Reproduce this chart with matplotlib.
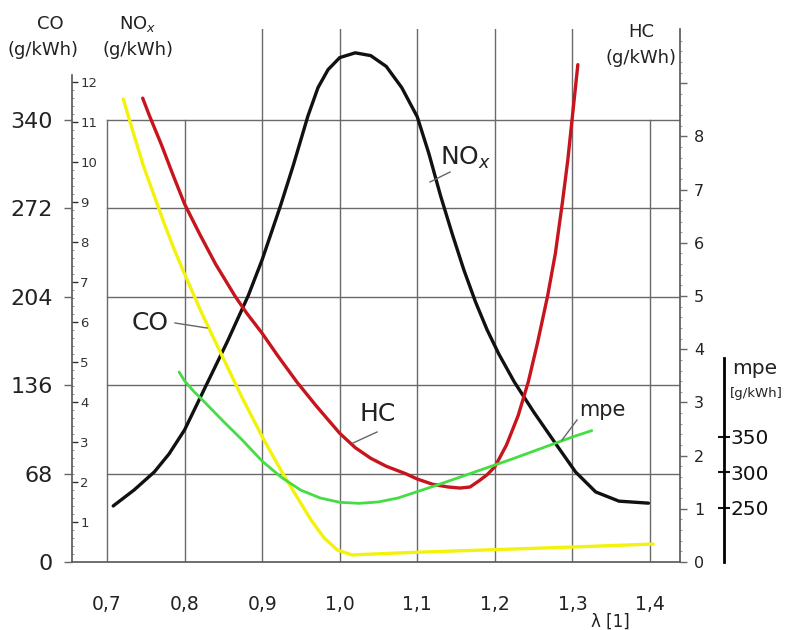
import matplotlib
matplotlib.use("Agg")
import matplotlib.pyplot as plt
from matplotlib.lines import Line2D
from matplotlib.ticker import FixedLocator

plt.rcParams['font.family'] = ['DejaVu Sans']

# ---------------- data ----------------
lambda_ticks = [0.7, 0.8, 0.9, 1.0, 1.1, 1.2, 1.3, 1.4]
lambda_labels = ['0,7', '0,8', '0,9', '1,0', '1,1', '1,2', '1,3', '1,4']
co_ticks = [0, 68, 136, 204, 272, 340]
nox_ticks = [1, 2, 3, 4, 5, 6, 7, 8, 9, 10, 11, 12]
hc_ticks = [0, 1, 2, 3, 4, 5, 6, 7, 8, 9]
hc_tick_labels = ['0', '1', '2', '3', '4', '5', '6', '7', '8', '']
mpe_ticks = [250, 300, 350]

nox_lambda = [0.708, 0.735, 0.761, 0.780, 0.800, 0.830, 0.855, 0.882, 0.900, 0.924,
              0.940, 0.959, 0.972, 0.985, 1.000, 1.020, 1.040, 1.060, 1.080, 1.100,
              1.115, 1.130, 1.145, 1.160, 1.175, 1.190, 1.205, 1.225, 1.250, 1.275,
              1.304, 1.330, 1.360, 1.398]
nox_values = [1.40, 1.80, 2.25, 2.70, 3.30, 4.50, 5.50, 6.65, 7.55, 8.92,
              9.90, 11.14, 11.85, 12.30, 12.60, 12.72, 12.65, 12.38, 11.85, 11.12,
              10.20, 9.15, 8.20, 7.30, 6.50, 5.80, 5.20, 4.50, 3.75, 3.05,
              2.25, 1.75, 1.52, 1.47]

hc_lambda = [0.746, 0.755, 0.770, 0.785, 0.800, 0.820, 0.840, 0.865, 0.880, 0.900,
             0.920, 0.945, 0.970, 1.000, 1.020, 1.040, 1.060, 1.085, 1.100, 1.120,
             1.140, 1.155, 1.168, 1.180, 1.190, 1.200, 1.215, 1.230, 1.243, 1.255,
             1.268, 1.278, 1.287, 1.294, 1.300, 1.307]
hc_values = [8.72, 8.38, 7.85, 7.28, 6.73, 6.15, 5.60, 5.00, 4.68, 4.30,
             3.88, 3.38, 2.93, 2.42, 2.15, 1.95, 1.80, 1.66, 1.56, 1.46,
             1.41, 1.39, 1.41, 1.53, 1.64, 1.79, 2.20, 2.75, 3.38, 4.12,
             5.00, 5.80, 6.75, 7.55, 8.38, 9.35]

co_lambda = [0.721, 0.734, 0.747, 0.761, 0.774, 0.787, 0.800, 0.822, 0.849, 0.875,
             0.901, 0.924, 0.941, 0.963, 0.980, 0.997, 1.016, 1.042, 1.100, 1.200,
             1.300, 1.404]
co_values = [355.8, 329.6, 304.2, 281.2, 259.7, 239.7, 221.3, 191.4, 157.6, 125.3,
             95.3, 70.7, 53.8, 32.3, 18.4, 9.2, 5.4, 6.1, 7.5, 9.5,
             11.5, 13.8]

mpe_lambda = [0.793, 0.800, 0.812, 0.825, 0.850, 0.875, 0.900, 0.925, 0.950, 0.975,
              1.000, 1.025, 1.050, 1.075, 1.100, 1.125, 1.150, 1.175, 1.200, 1.225,
              1.250, 1.275, 1.300, 1.325]
mpe_values = [441.5, 429.0, 414.0, 400.0, 372.0, 345.0, 316.0, 293.0, 275.0, 264.0,
              258.0, 256.5, 258.5, 264.0, 273.0, 282.0, 291.5, 301.0, 310.5, 320.0,
              330.0, 340.0, 350.0, 359.0]

# ---------------- layout ----------------
W, H = 789, 630
fig = plt.figure(figsize=(W / 100, H / 100), dpi=100)
fig.patch.set_facecolor('white')

L, R, B, T = 72, 680, 562, 29
rect = [L / W, (H - B) / H, (R - L) / W, (B - T) / H]

XMIN, XMAX = 0.65488, 1.43869
NOX_TOP = 13.315
CO_TOP = NOX_TOP * 30.76
HC_TOP = 10.02
MPE_LO, MPE_HI = 173.9, 924.6


def px(x, y):
    return (x / W, 1 - y / H)


ax = fig.add_axes(rect)
ax.set_xlim(XMIN, XMAX)
ax.set_ylim(0, NOX_TOP)
ax.patch.set_visible(False)

# grid
grid_c = '#6a6a6a'
top_grid_nox = co_ticks[-1] * NOX_TOP / CO_TOP
for lx in lambda_ticks:
    ymax = top_grid_nox if lx in (0.7, 0.8, 1.4) else NOX_TOP
    ax.plot([lx, lx], [0, ymax], color=grid_c, lw=1.0, zorder=1)
for cv in co_ticks[1:]:
    yv = cv * NOX_TOP / CO_TOP
    ax.plot([0.7, XMAX], [yv, yv], color=grid_c, lw=1.0, zorder=1)

for s in ['top', 'right']:
    ax.spines[s].set_visible(False)
ax.spines['left'].set_bounds(0, 12.17)
for s in ['left', 'bottom']:
    ax.spines[s].set_color('#555555')
    ax.spines[s].set_linewidth(1.2)

ax.set_xticks(lambda_ticks)
ax.set_xticklabels(lambda_labels)
ax.tick_params(axis='x', length=0, pad=24, labelsize=13.5, colors='#222222')

ax.set_yticks(nox_ticks)
ax.set_yticklabels([str(v) for v in nox_ticks])
ax.yaxis.set_minor_locator(FixedLocator([i * 0.2 for i in range(1, 61)]))
ax.tick_params(axis='y', which='major', direction='in', length=4, width=1,
               pad=-6, labelsize=9.5, colors='#333333')
ax.tick_params(axis='y', which='minor', direction='in', length=1.5, width=0.6,
               colors='#777777')
for lbl in ax.get_yticklabels():
    lbl.set_horizontalalignment('left')

# CO axis (left, outside)
ax_co = ax.twinx()
ax_co.set_ylim(0, CO_TOP)
ax_co.yaxis.tick_left()
for s in ax_co.spines.values():
    s.set_visible(False)
ax_co.set_yticks(co_ticks)
ax_co.set_yticklabels([str(v) for v in co_ticks])
ax_co.tick_params(axis='y', direction='out', length=6, width=1, pad=8,
                  labelsize=16, colors='#666666', labelcolor='#222222')

# HC axis (right)
ax_hc = ax.twinx()
ax_hc.set_ylim(0, HC_TOP)
for s in ['left', 'top', 'bottom']:
    ax_hc.spines[s].set_visible(False)
ax_hc.spines['right'].set_color('#555555')
ax_hc.spines['right'].set_linewidth(1.2)
ax_hc.set_yticks(hc_ticks)
ax_hc.set_yticklabels(hc_tick_labels)
ax_hc.yaxis.set_minor_locator(FixedLocator([i * 0.2 for i in range(1, 50)]))
ax_hc.tick_params(axis='y', which='major', direction='out', length=5, width=1,
                  pad=5, labelsize=11.5, colors='#666666', labelcolor='#222222')
ax_hc.tick_params(axis='y', which='minor', direction='out', length=1.5, width=0.6,
                  colors='#888888')

# mpe axis (separate, far right)
ax_mpe = ax.twinx()
ax_mpe.set_ylim(MPE_LO, MPE_HI)
for s in ['left', 'top', 'bottom']:
    ax_mpe.spines[s].set_visible(False)
ax_mpe.spines['right'].set_position(('axes', (724 - L) / (R - L)))
ax_mpe.spines['right'].set_bounds(MPE_LO, 461)
ax_mpe.spines['right'].set_linewidth(2)
ax_mpe.set_yticks(mpe_ticks)
ax_mpe.set_yticklabels([str(v) for v in mpe_ticks])
ax_mpe.tick_params(axis='y', direction='inout', length=9, width=1.5, pad=0,
                   labelsize=14.5, colors='#111111')

# curves
ax_co.plot(co_lambda, co_values, color='#f2f20c', lw=2.4, solid_capstyle='round',
           solid_joinstyle='round', zorder=3)
ax_mpe.plot(mpe_lambda, mpe_values, color='#44dd44', lw=2.0, solid_capstyle='round',
            solid_joinstyle='round', zorder=3)
ax_hc.plot(hc_lambda, hc_values, color='#c8141c', lw=2.4, solid_capstyle='round',
           solid_joinstyle='round', zorder=3)
ax.plot(nox_lambda, nox_values, color='#111111', lw=2.4, solid_capstyle='round',
        solid_joinstyle='round', zorder=4)

# axis titles
tc = '#222222'
fig.text(*px(50, 24), 'CO', ha='center', va='center', fontsize=13, color=tc)
fig.text(*px(43, 50), '(g/kWh)', ha='center', va='center', fontsize=13, color=tc)
fig.text(*px(138, 24), 'NO$_x$', ha='center', va='center', fontsize=13, color=tc)
fig.text(*px(138, 50), '(g/kWh)', ha='center', va='center', fontsize=13, color=tc)
fig.text(*px(641, 32), 'HC', ha='center', va='center', fontsize=13, color=tc)
fig.text(*px(641, 58), '(g/kWh)', ha='center', va='center', fontsize=13, color=tc)
fig.text(*px(755, 368), 'mpe', ha='center', va='center', fontsize=14.5, color=tc)
fig.text(*px(756, 393), '[g/kWh]', ha='center', va='center', fontsize=9.5, color=tc)
fig.text(*px(610, 622), 'λ [1]', ha='center', va='center', fontsize=12, color=tc)


# curve labels with leader lines
def leader(x0, y0, x1, y1):
    a, b = px(x0, y0)
    c, d = px(x1, y1)
    fig.add_artist(Line2D([a, c], [b, d], color='#666666', lw=1.0))


fig.text(*px(150, 323), 'CO', ha='center', va='center', fontsize=18, color=tc)
leader(175, 323, 207, 328)
fig.text(*px(378, 414), 'HC', ha='center', va='center', fontsize=18, color=tc)
leader(353, 443, 377, 432)
fig.text(*px(466, 158), 'NO$_x$', ha='center', va='center', fontsize=18, color=tc)
leader(430, 182, 450, 172)
fig.text(*px(602, 410), 'mpe', ha='center', va='center', fontsize=15, color=tc)
leader(562, 440, 577, 420)

fig.savefig('out.png', dpi=100)
